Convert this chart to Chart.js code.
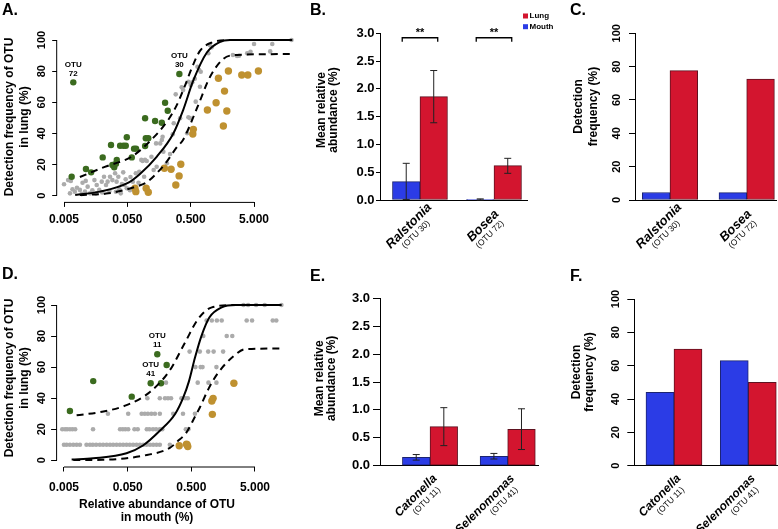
<!DOCTYPE html>
<html>
<head>
<meta charset="utf-8">
<script src="https://cdn.jsdelivr.net/npm/chart.js@4.4.0/dist/chart.umd.min.js"></script>
<style>
  html, body { margin: 0; padding: 0; background: #fff; overflow: hidden; width: 778px; height: 529px; }
  canvas { position: absolute; left: 0; top: 0; }
</style>
</head>
<body>
<canvas id="chartA" width="790" height="529"></canvas>
<canvas id="chartB" width="790" height="529"></canvas>
<canvas id="chartC" width="790" height="529"></canvas>
<canvas id="chartD" width="790" height="529"></canvas>
<canvas id="chartE" width="790" height="529"></canvas>
<canvas id="chartF" width="790" height="529"></canvas>
<script>
// ---- shared ticks ----
const logTicks = [0.005, 0.05, 0.5, 5];
const freqTicks = [0, 20, 40, 60, 80, 100];
const abundTicks = [0, 0.5, 1, 1.5, 2, 2.5, 3];

// ---- panel A: lung detection vs mouth abundance (top) ----
const aGrayX = [0.005,0.0058,0.0064,0.0062,0.0068,0.0074,0.008,0.0089,0.0095,0.0098,0.0107,0.011,0.0118,0.0129,0.014,0.0151,0.016,0.0164,0.018,0.0197,0.02,0.0214,0.023,0.0244,0.026,0.0266,0.029,0.032,0.033,0.0338,0.036,0.0374,0.0393,0.041,0.043,0.045,0.047,0.049,0.055,0.056,0.061,0.068,0.075,0.077,0.083,0.087,0.092,0.095,0.101,0.12,0.13,0.142,0.145,0.165,0.175,0.18,0.185,0.21,0.236,0.26,0.27,0.29,0.34,0.36,0.38,0.44,0.46,0.46,0.49,0.5,0.53,0.58,0.6,0.64,0.68,0.7,0.72,0.95,1.0,1.07,2.32,2.7,2.9,3.9,4.4,5.0,9.0,9.7,19.5];
const aGrayY = [7.3,10,9.4,1.5,4.1,2.6,5.1,3.7,1,8.3,2.6,9.5,5.8,1.5,3.5,10,1.5,6.9,3.7,9,2,12.2,6.9,9,3,12.2,10,14.4,2.5,9,12.2,4.1,1.5,7.5,15,6.9,10.5,4.8,3.5,12,9,14.4,8.3,15.4,23,22.3,12.2,23,22.3,25,16.5,33.6,18.6,33.6,35.8,37.9,28.3,20.8,26.8,39.4,46.5,65.1,49.7,69.6,67.9,40.1,50.4,73.2,49.7,71.1,72.8,75.1,60.4,82.8,80.7,70,79.6,91.5,96.8,95.3,90.4,89.7,89.9,91.5,92.5,97.4,92.7,97.4,100];
const aGreenX = [0.007,0.0066,0.0111,0.0134,0.0204,0.0276,0.034,0.029,0.031,0.033,0.049,0.0384,0.0433,0.0472,0.0587,0.0638,0.0686,0.0953,0.0977,0.107,0.0953,0.137,0.175,0.197,0.217,0.331];
const aGreenY = [72.8,12.2,17.1,15,24.6,32.6,22.9,19.7,18.2,20.5,37.5,32.1,32.1,32.1,24.6,30.2,30.2,49.7,36.9,36.9,31.9,48,46.9,59.7,54.6,78.2];
const aGoldX = [0.066,0.068,0.099,0.107,0.192,0.245,0.291,0.328,0.349,0.54,0.55,0.918,1.26,1.37,1.71,1.64,1.86,1.97,3.2,3.99,5.86];
const aGoldY = [4.8,2.6,4.8,2.2,17.6,17,6.9,12.7,20.2,39.6,42.6,55,59.7,75.4,67.2,44.8,54.4,80.1,77.5,77.5,80.1];
const aFitX = [0.0075,0.0185,0.05,0.079,0.145,0.266,0.38,0.55,0.9,1.43,2.1,20];
const aFitY = [0.5,2.6,8,14,25,40,55,74,92,98.7,100,100];
const aUpX = [0.0089,0.022,0.058,0.12,0.22,0.3,0.4,0.52,0.7,1.1,2.1,20];
const aUpY = [12,18.5,25,36,48.6,58,70,82,93,98.5,100,100];
const aLowX = [0.0089,0.025,0.068,0.1,0.145,0.2,0.3,0.38,0.64,1.0,1.65,2.7,20];
const aLowY = [0.4,1.5,5.8,8.5,14.4,20.8,31,36,57,76,88,90.4,91];
const aOtuX = [0.007, 0.331];
const aOtuY = [72.8, 78.2];
const aOtuNames = ['72', '30'];

// ---- panel D (bottom) ----
const dGrayLevels = [10, 20, 30, 40, 50, 60, 70, 80, 90, 100];
const dGrayRows = [
  [0.005,0.0055,0.0062,0.007,0.0079,0.0089,0.0113,0.0128,0.0142,0.016,0.0183,0.0206,0.0234,0.0264,0.0296,0.0335,0.0378,0.0425,0.048,0.054,0.061,0.069,0.078,0.088,0.099,0.112,0.126,0.142,0.16,0.23],
  [0.0047,0.0052,0.0056,0.0062,0.0068,0.0075,0.0143,0.038,0.042,0.046,0.051,0.064,0.072,0.1,0.11,0.125,0.14,0.16,0.175,0.41,0.45],
  [0.0245,0.051,0.083,0.093,0.104,0.118,0.134,0.16,0.26,0.37,0.57],
  [0.102,0.16,0.193,0.215,0.24,0.35,0.4,0.44],
  [0.2,0.63,0.93,1.24],
  [0.58,0.7,0.75,1.24],
  [0.47,0.68,0.92,1.12,1.58],
  [0.77,1.8,2.2],
  [0.87,1.05,1.26,1.5,3.7,4.5,9.5,10.8],
  [3.3,3.9,5.2,7.1,13]
];
const dGreenX = [0.0062,0.0144,0.058,0.115,0.146,0.205,0.167];
const dGreenY = [31.7,51,41,49.6,68.3,61.4,49.6];
const dGoldX = [0.323,0.42,0.44,0.43,1.07,1.05,1.1,2.33];
const dGoldY = [9.4,10.3,8.8,10,29.6,38.2,39.9,49.6];
const dFitX = [0.0066,0.0144,0.048,0.087,0.16,0.28,0.37,0.46,0.57,0.72,0.96,1.5,2.5,13];
const dFitY = [0.5,1.3,4.5,9.5,19,30,40,51,66,80,92,98.5,100,100];
const dUpX = [0.0079,0.0183,0.048,0.112,0.23,0.4,0.64,1.05,2.5,13];
const dUpY = [29,31,35.5,44,58,76,91,98.5,100,100];
const dLowX = [0.007,0.02,0.1,0.23,0.3,0.42,0.57,0.68,0.93,1.3,2.3,3.5,13];
const dLowY = [0.2,0.3,3.4,8,12,18,28,34,46,56,67,71.5,72];
const dOtuX = [0.146, 0.115];
const dOtuY = [68.3, 49.6];
const dOtuNames = ['11', '41'];

// ---- bar panels ----
const bTaxa = ['Ralstonia', 'Bosea'];
const bOtus = ['(OTU 30)', '(OTU 72)'];
const bMouth = [0.33, 0.01];
const bLung = [1.86, 0.62];
const bMouthLo = [0.01, 0.0];
const bMouthHi = [0.66, 0.02];
const bLungLo = [1.39, 0.48];
const bLungHi = [2.33, 0.75];
const bSignif = ['**', '**'];

const cMouth = [4.5, 4.4];
const cLung = [77.6, 72.5];

const eTaxa = ['Catonella', 'Selenomonas'];
const eOtus = ['(OTU 11)', '(OTU 41)'];
const eMouth = [0.15, 0.17];
const eLung = [0.70, 0.65];
const eMouthLo = [0.10, 0.12];
const eMouthHi = [0.20, 0.22];
const eLungLo = [0.36, 0.29];
const eLungHi = [1.04, 1.02];

const fMouth = [44, 63];
const fLung = [70, 50];

// ---- styling ----
const CW = 790, CH = 529;
const FAM = "'Liberation Sans', Arial, Helvetica, sans-serif";
const GRAY = '#ababab', GREEN = '#3b6b1f', GOLD = '#bf9130';
const RED = '#d3152f', BLUE = '#2b3ce6';
Chart.defaults.font.family = FAM;
Chart.defaults.color = '#000';

function fnt(size, weight, style) {
  return (style || 'normal') + ' ' + (weight || 'normal') + ' ' + size + 'px ' + FAM;
}

function pts(xs, ys) {
  return xs.map((x, i) => ({ x: x, y: ys[i] }));
}

function pad(l, t, r, b, wy, hx) {
  return { left: l - wy, top: t, right: CW - r, bottom: CH - b - hx };
}

function txt(ctx, s, x, y, f, align, rot, base) {
  ctx.save();
  ctx.translate(x, y);
  if (rot) ctx.rotate(rot);
  ctx.font = f;
  ctx.fillStyle = '#000';
  ctx.textAlign = align || 'center';
  ctx.textBaseline = base || 'middle';
  ctx.fillText(s, 0, 0);
  ctx.restore();
}

function lineSet(xs, ys, dash) {
  return {
    data: pts(xs, ys), showLine: true, fill: false, borderColor: '#000', borderWidth: 2,
    borderDash: dash, pointRadius: 0, cubicInterpolationMode: 'monotone', order: 0
  };
}

function dotSet(xs, ys, color, r, order) {
  return {
    data: pts(xs, ys), backgroundColor: color, borderColor: color, borderWidth: 0,
    pointRadius: r, order: order
  };
}

function scatterPanel(id, d) {
  const wy = 40, hx = 40;
  return new Chart(document.getElementById(id), {
    type: 'scatter',
    data: {
      datasets: [
        lineSet(d.fitX, d.fitY, []),
        lineSet(d.upX, d.upY, [7, 5]),
        lineSet(d.lowX, d.lowY, [7, 5]),
        dotSet(d.goldX, d.goldY, GOLD, 3.7, 1),
        dotSet(d.greenX, d.greenY, GREEN, 3.2, 2),
        dotSet(d.grayX, d.grayY, GRAY, 2.3, 3)
      ]
    },
    options: {
      responsive: false, animation: false, devicePixelRatio: 1,
      layout: { padding: pad(d.area[0], d.area[1], d.area[2], d.area[3], wy, hx) },
      plugins: { legend: { display: false }, tooltip: { enabled: false } },
      scales: {
        x: {
          type: 'logarithmic', min: 0.0039, max: 25,
          afterFit: s => { s.height = hx; },
          afterBuildTicks: s => { s.ticks = logTicks.map(v => ({ value: v })); },
          border: { display: false },
          grid: { drawOnChartArea: false, color: '#000', tickLength: 5 },
          ticks: { callback: v => Number(v).toFixed(3), font: { size: 12, weight: 'bold' },
                   padding: d.xPad, maxRotation: 0, autoSkip: false }
        },
        y: {
          min: -4, max: 104,
          afterFit: s => { s.width = wy; },
          afterBuildTicks: s => { s.ticks = freqTicks.map(v => ({ value: v })); },
          border: { display: false },
          grid: { drawOnChartArea: false, color: '#000', tickLength: d.yTl },
          ticks: { font: { size: 11, weight: 'bold' }, minRotation: 90, maxRotation: 90,
                   crossAlign: 'center', padding: d.yPad, autoSkip: false }
        }
      }
    },
    plugins: [{
      id: 'decor' + id,
      afterDraw(chart) {
        const ctx = chart.ctx, xs = chart.scales.x, ys = chart.scales.y, ca = chart.chartArea;
        ctx.save();
        ctx.strokeStyle = '#000';
        ctx.lineWidth = 1;
        ctx.beginPath();
        ctx.moveTo(xs.getPixelForValue(logTicks[0]), ca.bottom + 0.5);
        ctx.lineTo(xs.getPixelForValue(logTicks[logTicks.length - 1]), ca.bottom + 0.5);
        ctx.moveTo(ca.left - 0.5, ys.getPixelForValue(0));
        ctx.lineTo(ca.left - 0.5, ys.getPixelForValue(100));
        ctx.stroke();
        ctx.restore();
        // OTU labels above the highlighted points
        d.otuX.forEach((x, i) => {
          const px = xs.getPixelForValue(x), py = ys.getPixelForValue(d.otuY[i]);
          txt(ctx, 'OTU', px, py - 18, fnt(8, 'bold'));
          txt(ctx, d.otuNames[i], px, py - 9, fnt(8, 'bold'));
        });
        // axis titles and panel letter
        const rot = -Math.PI / 2;
        txt(ctx, 'Detection frequency of OTU', d.yTitle[0], d.yTitle[2], fnt(12, 'bold'), 'center', rot);
        txt(ctx, 'in lung (%)', d.yTitle[1], d.yTitle[2], fnt(12, 'bold'), 'center', rot);
        if (d.xTitle) {
          txt(ctx, 'Relative abundance of OTU', d.xTitle[0], d.xTitle[1], fnt(12, 'bold'));
          txt(ctx, 'in mouth (%)', d.xTitle[0], d.xTitle[2], fnt(12, 'bold'));
        }
        txt(ctx, d.letter, d.letterPos[0], d.letterPos[1], fnt(16, 'bold'), 'left', 0, 'alphabetic');
      }
    }]
  });
}

function barPanel(id, d) {
  const wy = 40, hx = 20;
  const isAbund = d.yMax === 3;
  const barSet = (vals, color, edge) => ({
    data: pts([0, 1], vals), backgroundColor: color, borderColor: edge, borderWidth: 1,
    borderSkipped: false, barThickness: d.bw
  });
  return new Chart(document.getElementById(id), {
    type: 'bar',
    data: { datasets: [barSet(d.mouth, BLUE, '#1c2470'), barSet(d.lung, RED, '#5e1220')] },
    options: {
      responsive: false, animation: false, devicePixelRatio: 1,
      layout: { padding: pad(d.area[0], d.area[1], d.area[2], d.area[3], wy, hx) },
      plugins: { legend: { display: false }, tooltip: { enabled: false } },
      scales: {
        x: {
          type: 'linear', min: d.xMin, max: d.xMax, offset: false,
          afterFit: s => { s.height = hx; },
          ticks: { display: false }, grid: { display: false, offset: false },
          border: { color: '#000', width: 1 }
        },
        y: {
          min: 0, max: d.yMax,
          afterFit: s => { s.width = wy; },
          afterBuildTicks: s => { s.ticks = (isAbund ? abundTicks : freqTicks).map(v => ({ value: v })); },
          border: { color: '#000', width: 1 },
          grid: { drawOnChartArea: false, color: '#000', tickLength: d.yTl },
          ticks: isAbund
            ? { callback: v => Number(v).toFixed(1), font: { size: 13, weight: 'bold' }, padding: d.yPad, autoSkip: false }
            : { font: { size: 11, weight: 'bold' }, minRotation: 90, maxRotation: 90, crossAlign: 'center', padding: d.yPad, autoSkip: false }
        }
      }
    },
    plugins: [{
      id: 'decor' + id,
      afterDraw(chart) {
        const ctx = chart.ctx, xs = chart.scales.x, ys = chart.scales.y, ca = chart.chartArea;
        // error bars
        if (d.err) {
          ctx.save();
          ctx.strokeStyle = '#222';
          ctx.lineWidth = 1;
          d.err.forEach((e, di) => {
            chart.getDatasetMeta(di).data.forEach((bar, j) => {
              const y1 = ys.getPixelForValue(e[0][j]), y2 = ys.getPixelForValue(e[1][j]);
              ctx.beginPath();
              ctx.moveTo(bar.x, y1); ctx.lineTo(bar.x, y2);
              ctx.moveTo(bar.x - 3.5, y1); ctx.lineTo(bar.x + 3.5, y1);
              ctx.moveTo(bar.x - 3.5, y2); ctx.lineTo(bar.x + 3.5, y2);
              ctx.stroke();
            });
          });
          ctx.restore();
        }
        // significance brackets
        if (d.signif) {
          const by = ys.getPixelForValue(d.sigLevel);
          ctx.save();
          ctx.strokeStyle = '#000';
          ctx.lineWidth = 1.3;
          d.signif.forEach((s, j) => {
            const x1 = chart.getDatasetMeta(0).data[j].x - 4, x2 = chart.getDatasetMeta(1).data[j].x + 4;
            ctx.beginPath();
            ctx.moveTo(x1, by + 4); ctx.lineTo(x1, by); ctx.lineTo(x2, by); ctx.lineTo(x2, by + 4);
            ctx.stroke();
            txt(ctx, s, (x1 + x2) / 2, by - 5, fnt(11, 'bold'));
          });
          ctx.restore();
        }
        // category labels (rotated)
        const rot = -Math.PI / 4, L = d.lab;
        d.taxa.forEach((t, j) => {
          const cx = xs.getPixelForValue(j);
          txt(ctx, t, cx + L.name[0], ca.bottom + L.name[1], fnt(L.size, 'bold', 'italic'), L.align, rot);
          txt(ctx, d.otus[j], cx + L.otu[0], ca.bottom + L.otu[1], fnt(8.5), L.align, rot);
        });
        // axis title
        const vr = -Math.PI / 2;
        txt(ctx, d.yLines[0], d.yTitle[0], d.yTitle[2], fnt(12, 'bold'), 'center', vr);
        txt(ctx, d.yLines[1], d.yTitle[1], d.yTitle[2], fnt(12, 'bold'), 'center', vr);
        txt(ctx, d.letter, d.letterPos[0], d.letterPos[1], fnt(16, 'bold'), 'left', 0, 'alphabetic');
        // legend
        if (d.legend) {
          ctx.save();
          ctx.fillStyle = RED; ctx.fillRect(d.legend[0], d.legend[1] - 2.5, 5, 5);
          ctx.fillStyle = BLUE; ctx.fillRect(d.legend[0], d.legend[2] - 2.5, 5, 5);
          ctx.restore();
          txt(ctx, 'Lung', d.legend[0] + 6.5, d.legend[1], fnt(8, 'bold'), 'left');
          txt(ctx, 'Mouth', d.legend[0] + 6.5, d.legend[2], fnt(8, 'bold'), 'left');
        }
      }
    }]
  });
}

scatterPanel('chartA', {
  grayX: aGrayX, grayY: aGrayY, greenX: aGreenX, greenY: aGreenY, goldX: aGoldX, goldY: aGoldY,
  fitX: aFitX, fitY: aFitY, upX: aUpX, upY: aUpY, lowX: aLowX, lowY: aLowY,
  otuX: aOtuX, otuY: aOtuY, otuNames: aOtuNames,
  area: [57.2, 33.8, 298.3, 201.9], xPad: 6, yTl: 5, yPad: 0.7,
  yTitle: [10, 25, 117], letter: 'A.', letterPos: [2, 15]
});

scatterPanel('chartD', {
  grayX: dGrayRows.flat(), grayY: dGrayRows.flatMap((r, i) => r.map(() => dGrayLevels[i])),
  greenX: dGreenX, greenY: dGreenY, goldX: dGoldX, goldY: dGoldY,
  fitX: dFitX, fitY: dFitY, upX: dUpX, upY: dUpY, lowX: dLowX, lowY: dLowY,
  otuX: dOtuX, otuY: dOtuY, otuNames: dOtuNames,
  area: [57.1, 298.8, 299.5, 466.5], xPad: 9, yTl: 6, yPad: 0.2,
  yTitle: [10, 25, 378], xTitle: [157, 505, 517.5], letter: 'D.', letterPos: [2, 279]
});

const topLab = { align: 'center', size: 13, name: [-11, 26], otu: [-4, 34.5] };
const botLab = { align: 'right', size: 12, name: [5, 11], otu: [9, 23] };

barPanel('chartB', {
  mouth: bMouth, lung: bLung, err: [[bMouthLo, bMouthHi], [bLungLo, bLungHi]],
  signif: bSignif, sigLevel: 2.92, taxa: bTaxa, otus: bOtus,
  area: [380, 33.3, 527, 200], xMin: -0.54, xMax: 1.446, yMax: 3, bw: 27.5,
  yTl: 4, yPad: 1.5, lab: topLab,
  yLines: ['Mean relative', 'abundance (%)'], yTitle: [322, 334, 110],
  letter: 'B.', letterPos: [310, 15], legend: [523, 16, 26.7]
});

barPanel('chartC', {
  mouth: cMouth, lung: cLung, taxa: bTaxa, otus: bOtus,
  area: [635, 33.3, 776.7, 200], xMin: -0.456, xMax: 1.391, yMax: 100, bw: 27.7,
  yTl: 6, yPad: 2.5, lab: topLab,
  yLines: ['Detection', 'frequency (%)'], yTitle: [578.3, 593.3, 106.5],
  letter: 'C.', letterPos: [570, 15]
});

barPanel('chartE', {
  mouth: eMouth, lung: eLung, err: [[eMouthLo, eMouthHi], [eLungLo, eLungHi]],
  taxa: eTaxa, otus: eOtus,
  area: [380, 298.3, 538.3, 465.7], xMin: -0.644, xMax: 1.394, yMax: 3, bw: 27.6,
  yTl: 7, yPad: 3, lab: botLab,
  yLines: ['Mean relative', 'abundance (%)'], yTitle: [319.5, 332, 378.3],
  letter: 'E.', letterPos: [310, 281]
});

barPanel('chartF', {
  mouth: fMouth, lung: fLung, taxa: eTaxa, otus: eOtus,
  area: [634.3, 299, 780, 465.7], xMin: -0.534, xMax: 1.427, yMax: 100, bw: 28,
  yTl: 7, yPad: 2.1, lab: botLab,
  yLines: ['Detection', 'frequency (%)'], yTitle: [576.7, 590, 372],
  letter: 'F.', letterPos: [570, 281]
});
</script>
</body>
</html>
